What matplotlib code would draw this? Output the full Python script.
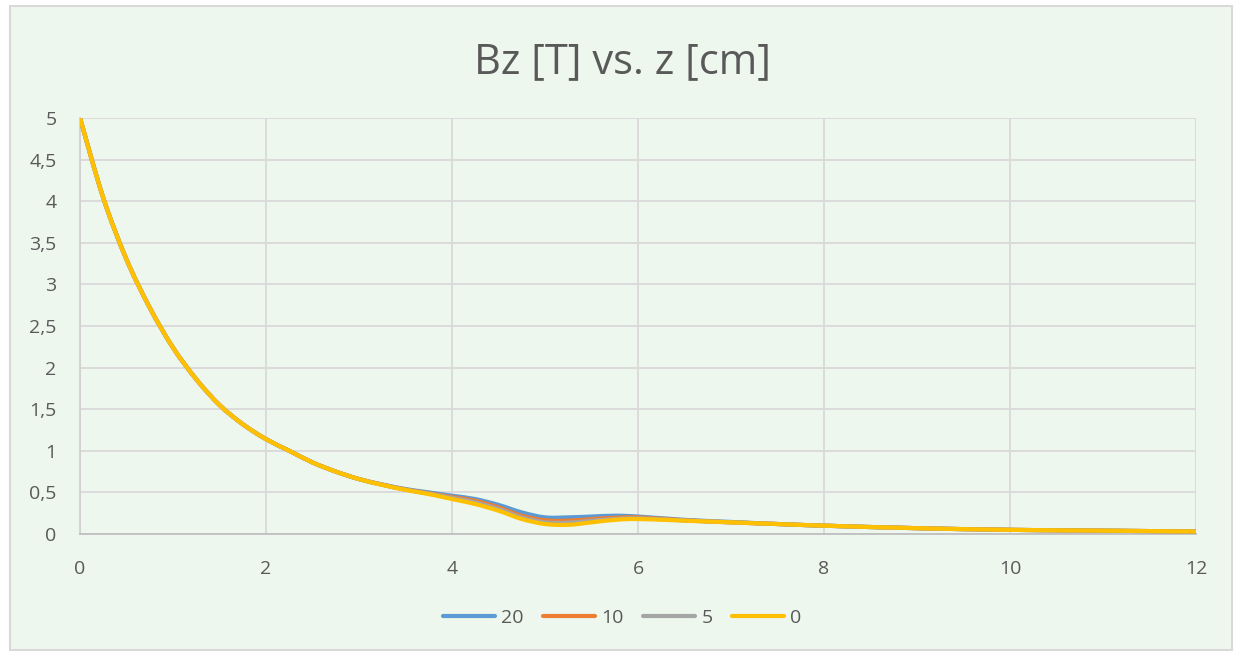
import matplotlib
matplotlib.use("Agg")
import matplotlib.pyplot as plt
from matplotlib.ticker import FuncFormatter, MultipleLocator
from matplotlib.patches import Rectangle, PathPatch
from matplotlib.path import Path
from matplotlib.lines import Line2D

# ---- data ----
z = [0, 0.25, 0.5, 0.75, 1, 1.25, 1.5, 1.75, 2, 2.25, 2.5, 2.75, 3, 3.25, 3.5,
     3.75, 4, 4.25, 4.5, 4.75, 5, 5.25, 5.5, 5.75, 6, 6.5, 7, 7.5, 8, 9, 10, 11, 12]

b20 = [5.0, 4.04, 3.30, 2.72, 2.24, 1.86, 1.55, 1.32, 1.14, 1.00, 0.86, 0.75, 0.66, 0.595, 0.54,
       0.50, 0.46, 0.42, 0.35, 0.26, 0.20, 0.20, 0.21, 0.22, 0.21, 0.17, 0.145, 0.12, 0.10, 0.07, 0.05, 0.04, 0.03]
b10 = [5.0, 4.04, 3.30, 2.72, 2.24, 1.86, 1.55, 1.32, 1.14, 1.00, 0.86, 0.75, 0.66, 0.593, 0.535,
       0.49, 0.445, 0.40, 0.32, 0.22, 0.165, 0.16, 0.18, 0.195, 0.20, 0.165, 0.14, 0.12, 0.10, 0.07, 0.05, 0.04, 0.03]
b5 = [5.0, 4.04, 3.30, 2.72, 2.24, 1.86, 1.55, 1.32, 1.14, 1.00, 0.86, 0.75, 0.66, 0.592, 0.533,
      0.485, 0.435, 0.38, 0.30, 0.20, 0.14, 0.135, 0.16, 0.18, 0.19, 0.163, 0.14, 0.12, 0.10, 0.07, 0.05, 0.04, 0.03]
b0 = [5.0, 4.04, 3.30, 2.72, 2.24, 1.86, 1.55, 1.32, 1.14, 1.00, 0.86, 0.75, 0.66, 0.59, 0.53,
      0.48, 0.42, 0.36, 0.28, 0.18, 0.12, 0.11, 0.14, 0.17, 0.18, 0.16, 0.14, 0.12, 0.10, 0.07, 0.05, 0.04, 0.03]

series = [("20", b20, "#5B9BD5"), ("10", b10, "#ED7D31"),
          ("5", b5, "#A5A5A5"), ("0", b0, "#FFC000")]

title = "Bz [T] vs. z [cm]"
text_color = "#595959"
bg = "#EEF7EE"


def smooth_path(xs, ys):
    """Excel-style smoothed line: cubic Bezier segments through the data points."""
    n = len(xs)
    verts = [(xs[0], ys[0])]
    codes = [Path.MOVETO]
    for i in range(n - 1):
        x0, y0 = xs[max(i - 1, 0)], ys[max(i - 1, 0)]
        x1, y1 = xs[i], ys[i]
        x2, y2 = xs[i + 1], ys[i + 1]
        x3, y3 = xs[min(i + 2, n - 1)], ys[min(i + 2, n - 1)]
        c1 = (x1 + (x2 - x0) / 6.0, y1 + (y2 - y0) / 6.0)
        c2 = (x2 - (x3 - x1) / 6.0, y2 - (y3 - y1) / 6.0)
        verts += [c1, c2, (x2, y2)]
        codes += [Path.CURVE4] * 3
    return Path(verts, codes)


plt.rcParams['font.family'] = ['Open Sans', 'DejaVu Sans']

fig = plt.figure(figsize=(12.43, 6.56), dpi=100)
fig.patch.set_facecolor("white")
fig.patches.append(Rectangle((10 / 1243, 1 - 650 / 656), 1222 / 1243, 644 / 656,
                             transform=fig.transFigure, facecolor=bg,
                             edgecolor="#D9D9D9", linewidth=1.5, zorder=-5))

ax = fig.add_axes([80 / 1243, 1 - 534 / 656, (1196 - 80) / 1243, (534 - 118) / 656])
ax.set_zorder(1)
ax.patch.set_alpha(0)

handles = []
for name, vals, col in series:
    ax.add_patch(PathPatch(smooth_path(z, vals), fill=False, edgecolor=col, lw=3.0,
                           capstyle="round", joinstyle="round", zorder=3))
    handles.append(Line2D([], [], color=col, lw=3.0, solid_capstyle="round", label=name))

ax.set_xlim(0, 12)
ax.set_ylim(0, 5)
ax.xaxis.set_major_locator(MultipleLocator(2))
ax.yaxis.set_major_locator(MultipleLocator(0.5))
fmt = FuncFormatter(lambda v, p: ("%g" % v).replace(".", ","))
ax.xaxis.set_major_formatter(fmt)
ax.yaxis.set_major_formatter(fmt)

ax.grid(True, color="#D9D9D9", lw=1.3, zorder=0)
ax.set_axisbelow(True)
for s in ["top", "right"]:
    ax.spines[s].set_visible(False)
ax.spines["left"].set_color("#D0D0D0")
ax.spines["left"].set_linewidth(1.3)
ax.spines["bottom"].set_color("#BFBFBF")
ax.spines["bottom"].set_linewidth(1.3)
ax.tick_params(length=0, labelsize=14, labelcolor=text_color)
ax.tick_params(axis="x", pad=19)
ax.tick_params(axis="y", pad=17)

fig.text(622 / 1243, 1 - 62 / 656, title, ha="center", va="center",
         fontsize=30, color=text_color)

fig.legend(handles=handles, loc="center", bbox_to_anchor=(622 / 1243, 1 - 618 / 656), ncol=4,
           frameon=False, fontsize=14, handlelength=2.7, handletextpad=0.3,
           columnspacing=1.0, labelcolor=text_color)

fig.savefig("out.png", dpi=100, facecolor="white")
